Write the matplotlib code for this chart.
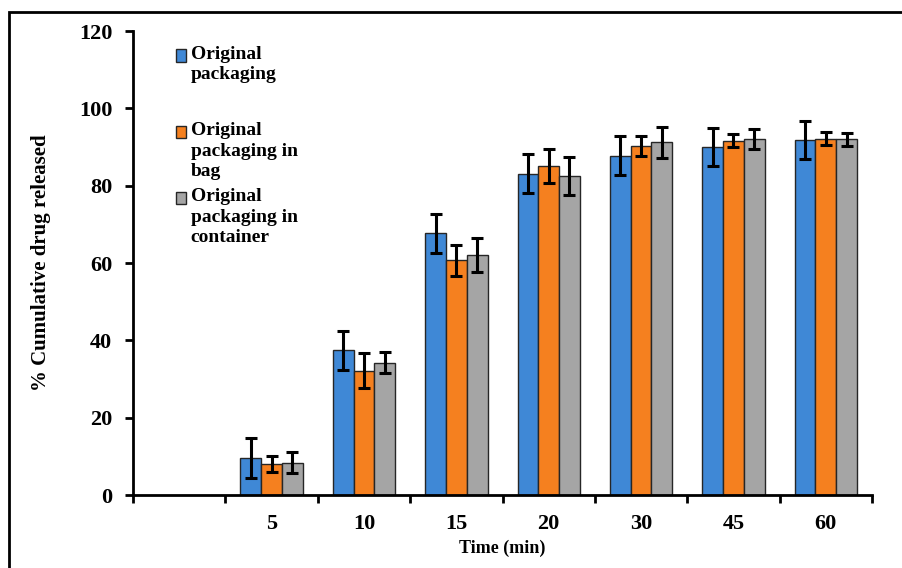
import numpy as np
import matplotlib.pyplot as plt
from matplotlib.patches import Rectangle

plt.rcParams['font.family'] = 'Liberation Serif'
plt.rcParams['font.weight'] = 'bold'
plt.rcParams['axes.labelweight'] = 'bold'

# dissolution data, mean +/- sd, first slot left empty
time_labels = ["", "5", "10", "15", "20", "30", "45", "60"]
original = [9.6, 37.4, 67.7, 83.1, 87.8, 90.0, 91.8]
original_sd = [5.1, 5.1, 5.0, 5.1, 5.0, 5.0, 5.0]
in_bag = [8.0, 32.2, 60.7, 85.1, 90.2, 91.6, 92.2]
in_bag_sd = [2.0, 4.4, 4.0, 4.4, 2.6, 1.7, 1.8]
in_container = [8.3, 34.2, 62.1, 82.5, 91.2, 92.1, 92.0]
in_container_sd = [2.7, 2.7, 4.4, 5.0, 4.0, 2.5, 1.7]

series_names = ["Original\npackaging", "Original\npackaging in\nbag", "Original\npackaging in\ncontainer"]
colors = ["#3f88d6", "#f5801f", "#a5a5a5"]

fig = plt.figure(figsize=(9.03, 5.68), dpi=100)
ax = fig.add_axes([0.1473, 0.1285, 0.8184, 0.8169])

x = np.arange(1, len(time_labels))
w = 0.225
err_kw = dict(ecolor='black', elinewidth=2.2, capsize=4, capthick=2.2)
for i, (vals, sd) in enumerate([(original, original_sd), (in_bag, in_bag_sd),
                                (in_container, in_container_sd)]):
    ax.bar(x + (i - 1) * w, vals, w, yerr=sd, color=colors[i],
           edgecolor='#262626', linewidth=1.0, error_kw=err_kw, zorder=2)

ax.set_xlim(-0.5, len(time_labels) - 0.5)
ax.set_ylim(0, 120)
ax.set_yticks(np.arange(0, 121, 20))

# boundary ticks as major, labels centred on the categories as minor
ax.set_xticks(np.arange(-0.5, len(time_labels), 1.0))
ax.set_xticklabels([])
ax.set_xticks(np.arange(len(time_labels)), minor=True)
ax.set_xticklabels(time_labels, minor=True)
ax.tick_params(axis='x', which='minor', length=0, pad=14, labelsize=16)
ax.tick_params(axis='x', which='major', direction='out', length=6, width=2)
ax.tick_params(axis='y', direction='out', length=6, width=2, pad=9, labelsize=16)

for s in ['top', 'right']:
    ax.spines[s].set_visible(False)
for s in ['left', 'bottom']:
    ax.spines[s].set_linewidth(2)

ax.set_xlabel("Time (min)", fontsize=13, labelpad=4)
ax.set_ylabel("% Cumulative drug released", fontsize=15, labelpad=20)

# legend drawn by hand so the swatch sits on the first line of each entry
legend_tops = [0.968, 0.803, 0.661]
for name, c, top in zip(series_names, colors, legend_tops):
    ax.add_patch(Rectangle((0.058, top - 0.034), 0.014, 0.027, transform=ax.transAxes,
                           facecolor=c, edgecolor='#262626', linewidth=1.0,
                           clip_on=False))
    ax.text(0.078, top, name, transform=ax.transAxes, fontsize=14,
            va='top', ha='left', linespacing=1.25)

# outer frame, runs past the right and bottom edges
fig.patches.append(Rectangle((9 / 903, -0.1), 1.2, 1 - 12 / 568 + 0.1,
                             transform=fig.transFigure, fill=False,
                             edgecolor='black', linewidth=2))

fig.savefig("out.png", dpi=100)
